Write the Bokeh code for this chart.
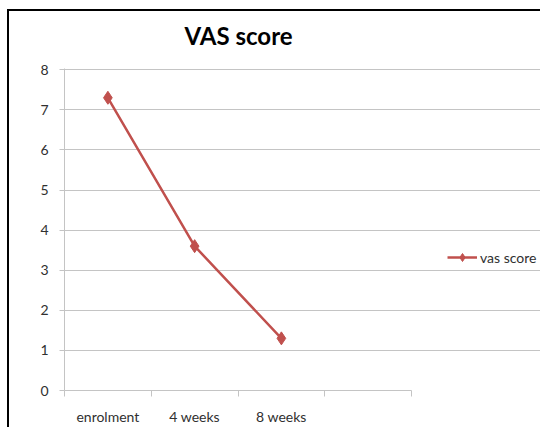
from bokeh.plotting import figure
from bokeh.models import Range1d, FixedTicker, Legend, LegendItem, ColumnDataSource
from bokeh.embed import file_html
from bokeh.resources import INLINE

categories = ["enrolment", "4 weeks", "8 weeks"]
n_slots = 4
vas_score = [7.3, 3.6, 1.3]
y_ticks = [0, 1, 2, 3, 4, 5, 6, 7, 8]

FONT = "Lato"
RED = "#C0504D"
GRID = "#C4C4C4"
TXT = "#303030"

W, H = 540, 427
FL, FR_AXIS, FT, FB = 64, 411, 67, 399   # frame left, axis end, frame top, frame bottom (figure px)
xs = [i + 0.5 for i in range(len(categories))]
src = ColumnDataSource(dict(x=xs, y=vas_score))

x_end = n_slots * (W - FL) / (FR_AXIS - FL)
p = figure(width=W, height=H, output_backend="svg", toolbar_location=None,
           x_range=Range1d(0, x_end), y_range=Range1d(0, 8.03),
           min_border_left=FL, min_border_right=0, min_border_top=FT, min_border_bottom=H - FB,
           title="VAS score")
# chart-area border (top and left edges, as in the reference crop)
p.styles = {"background": "linear-gradient(#000,#000) 8px 9px / 100% 2px no-repeat, "
                          "linear-gradient(#000,#000) 7px 9px / 2px 100% no-repeat, #ffffff"}
p.outline_line_color = None
p.background_fill_color = "white"
p.border_fill_color = None

p.title.align = "left"
p.title.text_font = FONT
p.title.text_font_style = "bold"
p.title.text_font_size = "24px"
p.title.text_color = "#000000"
p.title.offset = 120
p.title.standoff = 37

line = p.line("x", "y", source=src, line_color=RED, line_width=2.5)
pts = p.scatter("x", "y", source=src, marker="diamond", size=13, fill_color=RED, line_color=RED)

xa = p.xaxis[0]
xa.bounds = (0, n_slots)
xa.ticker = FixedTicker(ticks=[i + 0.5 for i in range(n_slots)], minor_ticks=list(range(n_slots + 1)))
xa.major_label_overrides = {i + 0.5: (categories[i] if i < len(categories) else "") for i in range(n_slots)}
xa.major_tick_out = 0
xa.major_tick_in = 0
xa.minor_tick_out = 6
xa.minor_tick_in = 0
xa.minor_tick_line_color = GRID
xa.axis_line_color = GRID
xa.major_label_standoff = 11
xa.major_label_text_font = FONT
xa.major_label_text_font_size = "14px"
xa.major_label_text_color = TXT

ya = p.yaxis[0]
ya.ticker = FixedTicker(ticks=y_ticks)
ya.major_tick_out = 5
ya.major_tick_in = 0
ya.minor_tick_out = 0
ya.minor_tick_in = 0
ya.major_tick_line_color = GRID
ya.axis_line_color = GRID
ya.major_label_standoff = 11
ya.major_label_text_font = FONT
ya.major_label_text_font_size = "14px"
ya.major_label_text_color = TXT

p.xgrid.grid_line_color = None
p.ygrid.ticker = FixedTicker(ticks=y_ticks)
p.ygrid.bounds = (0, n_slots)
p.ygrid.grid_line_color = GRID
p.ygrid.grid_line_width = 1

legend = Legend(items=[LegendItem(label="vas score", renderers=[line, pts])],
                location=(383, 123), padding=0, margin=0, spacing=0,
                glyph_width=30, glyph_height=20, label_standoff=3,
                label_text_font=FONT, label_text_font_size="14px", label_text_color=TXT,
                border_line_color=None, background_fill_alpha=0)
p.add_layout(legend, "center")

open("out.html", "w").write(file_html(p, INLINE))
